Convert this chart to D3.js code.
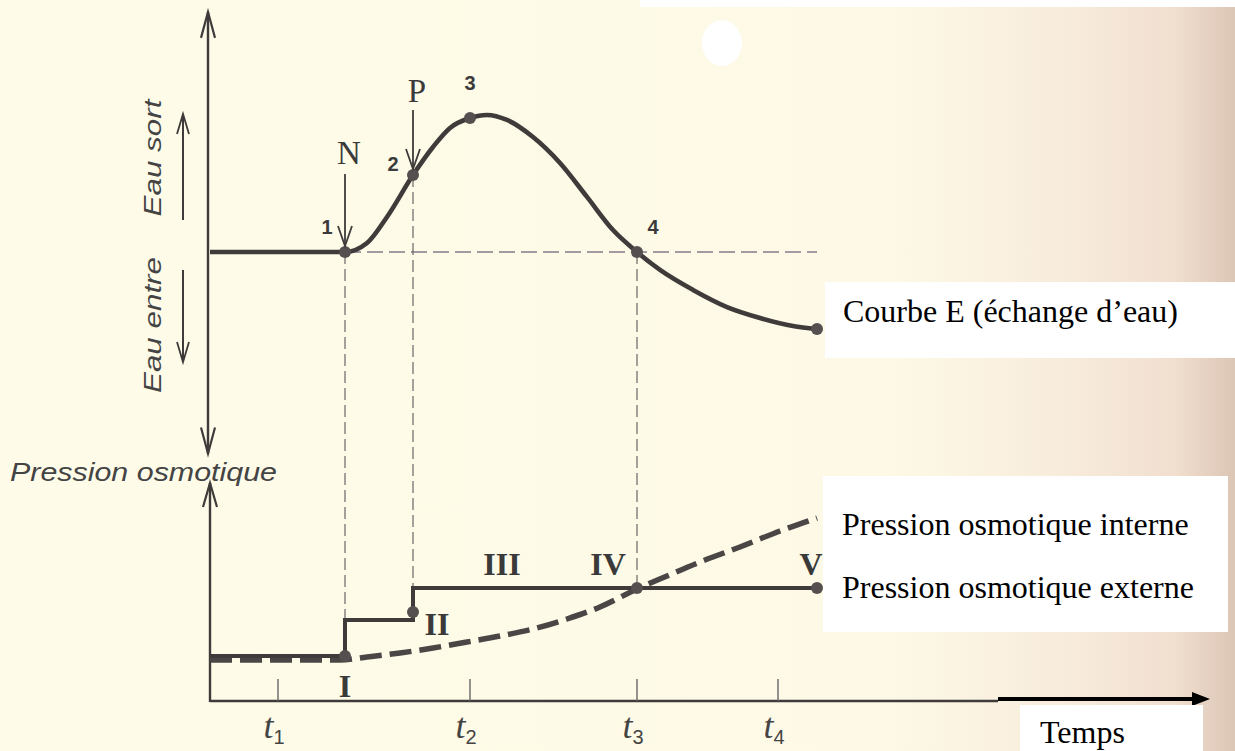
<!DOCTYPE html>
<html><head><meta charset="utf-8">
<script src="https://cdn.jsdelivr.net/npm/d3@7"></script>
<style>html,body{margin:0;padding:0;background:#fdfbe9;}svg{display:block;}</style>
</head><body>
<svg id="c" width="1235" height="751"></svg>
<script>
// ---------- DATA ----------
// Courbe E (échange d'eau): time vs exchange (0 = no exchange)
const eTime  = [0, 13.5, 15.7, 17.7, 20.3, 22.3, 24.0, 26.0, 27.7, 29.7, 32.3, 35.0, 37.7, 40.3, 42.7, 45.0, 48.3, 51.7, 55.0, 58.3, 60.7];
const eValue = [0, 0, 0.65, 2.54, 5.58, 7.61, 8.99, 9.71, 9.93, 9.57, 8.33, 6.45, 3.99, 1.59, 0, -1.30, -2.75, -3.99, -4.78, -5.36, -5.58];
const ePointLabels = ["1", "2", "3", "4"];
const ePointTime   = [13.5, 20.3, 26.0, 42.7];
const ePointValue  = [0, 5.58, 9.71, 0];
const eEndTime = 60.7, eEndValue = -5.58;
// Pression osmotique interne (dashed)
const intTime  = [0, 13.0, 15.7, 19.0, 22.3, 25.7, 29.0, 32.3, 35.7, 39.0, 42.7, 45.7, 49.0, 53.0, 57.0, 60.7];
const intValue = [4.1, 4.1, 4.4, 4.8, 5.3, 5.9, 6.5, 7.2, 8.2, 9.4, 11.2, 12.5, 13.9, 15.4, 17.0, 18.3];
// Pression osmotique externe (steps)
const extTime  = [0, 13.5, 20.3, 60.7];
const extValue = [4.5, 8.1, 11.3, 11.3];
const romanLabels = ["I", "II", "III", "IV", "V"];
const romanTime   = [13.5, 22.7, 29.2, 39.8, 60.1];
const romanDotTime  = [13.5, 20.3, 42.7, 60.7];
const romanDotValue = [4.5, 8.9, 11.3, 11.3];
// time ticks
const tickLabels = ["1", "2", "3", "4"];
const tickTimes  = [6.8, 26.0, 42.7, 56.8];
// events
const eventLabels = ["N", "P"];
const eventTimes  = [13.5, 20.3];

// ---------- SETUP ----------
const svg = d3.select("#c");
const x  = d3.scaleLinear().domain([0, 100]).range([210, 1210]);
const yE = d3.scaleLinear().domain([0, 10]).range([252, 114]);
const yP = d3.scaleLinear().domain([0, 10]).range([701, 601]);
const ink = "#3e3b3a";

// background
const defs = svg.append("defs");
const g1 = defs.append("linearGradient").attr("id","bg").attr("x1","0").attr("x2","1").attr("y1","0").attr("y2","0");
[["0","#fefce8"],["0.72","#fdf9e6"],["0.86","#f8ecdc"],["0.95","#f1dfd0"],["1","#dcc6b6"]]
  .forEach(s => g1.append("stop").attr("offset",s[0]).attr("stop-color",s[1]));
svg.append("rect").attr("width",1235).attr("height",751).attr("fill","url(#bg)");
svg.append("rect").attr("x",640).attr("y",0).attr("width",595).attr("height",7).attr("fill","#ffffff");
svg.append("ellipse").attr("cx",722).attr("cy",43).attr("rx",20).attr("ry",23).attr("fill","#ffffff");

function openArrow(g, tx, ty, dir, hw, len, sw) {
  const s = dir === "up" ? 1 : -1;
  g.append("path")
    .attr("d", `M${tx-hw},${ty+s*len} L${tx},${ty} L${tx+hw},${ty+s*len}`)
    .attr("fill","none").attr("stroke",ink).attr("stroke-width",sw).attr("stroke-linejoin","miter");
}
const gA = svg.append("g");

// ---------- UPPER AXIS ----------
gA.append("line").attr("x1",208).attr("x2",208).attr("y1",yE(17.4)).attr("y2",yE(-14.6))
  .attr("stroke",ink).attr("stroke-width",2.4);
openArrow(gA, 208, yE(17.4), "up", 7, 26, 2.2);
openArrow(gA, 208, yE(-14.6), "down", 7, 26, 2.2);

// Eau sort / Eau entre
gA.append("text").attr("transform","translate(161,158) rotate(-90)").attr("text-anchor","middle")
  .attr("font-family","Liberation Sans, Arial, sans-serif").attr("font-style","italic").attr("font-size",24)
  .attr("textLength",117).attr("lengthAdjust","spacingAndGlyphs").attr("fill","#444").text("Eau sort");
gA.append("text").attr("transform","translate(161,325) rotate(-90)").attr("text-anchor","middle")
  .attr("font-family","Liberation Sans, Arial, sans-serif").attr("font-style","italic").attr("font-size",24)
  .attr("textLength",136).attr("lengthAdjust","spacingAndGlyphs").attr("fill","#444").text("Eau entre");
gA.append("line").attr("x1",183).attr("x2",183).attr("y1",220).attr("y2",114).attr("stroke",ink).attr("stroke-width",2);
openArrow(gA, 183, 114, "up", 6, 20, 1.8);
gA.append("line").attr("x1",183).attr("x2",183).attr("y1",270).attr("y2",362).attr("stroke",ink).attr("stroke-width",2);
openArrow(gA, 183, 362, "down", 6, 20, 1.8);

// ---------- LOWER AXES ----------
gA.append("line").attr("x1",210).attr("x2",210).attr("y1",yP(0)+1).attr("y2",yP(21.8))
  .attr("stroke",ink).attr("stroke-width",2.4);
openArrow(gA, 210, yP(21.8), "up", 7, 24, 2.2);
gA.append("text").attr("x",10).attr("y",481)
  .attr("font-family","Liberation Sans, Arial, sans-serif").attr("font-style","italic").attr("font-size",26)
  .attr("textLength",267).attr("lengthAdjust","spacingAndGlyphs").attr("fill","#444").text("Pression osmotique");

// time axis
gA.append("line").attr("x1",x(0)).attr("x2",x(78.8)).attr("y1",yP(0)).attr("y2",yP(0))
  .attr("stroke",ink).attr("stroke-width",2.4);
gA.append("line").attr("x1",x(78.8)).attr("x2",x(98.5)).attr("y1",yP(0.2)).attr("y2",yP(0.2))
  .attr("stroke","#000").attr("stroke-width",4);
gA.append("path").attr("d",`M${x(98.2)},${yP(0.2)-7} L${x(100)},${yP(0.2)} L${x(98.2)},${yP(0.2)+7} Z`).attr("fill","#000");

// ticks
tickTimes.forEach((t,i) => {
  gA.append("line").attr("x1",x(t)).attr("x2",x(t)).attr("y1",yP(0)-22).attr("y2",yP(0))
    .attr("stroke","#666").attr("stroke-width",1.4);
  const tx = gA.append("text").attr("x",x(t)-4).attr("y",738).attr("text-anchor","middle")
    .attr("font-family","Liberation Serif, serif").attr("fill","#444");
  tx.append("tspan").attr("font-style","italic").attr("font-size",36).text("t");
  tx.append("tspan").attr("font-family","Liberation Sans, Arial, sans-serif").attr("font-size",20).attr("dy",6).text(tickLabels[i]);
});

// ---------- DASHED GUIDES ----------
const gD = svg.append("g").attr("stroke","#6a6668").attr("fill","none");
gD.append("line").attr("x1",x(13.5)).attr("x2",x(60.7)).attr("y1",yE(0)).attr("y2",yE(0))
  .attr("stroke","#857b8c").attr("stroke-width",1.4).attr("stroke-dasharray","16,6");
gD.append("line").attr("x1",x(13.5)).attr("x2",x(13.5)).attr("y1",yE(0)).attr("y2",yP(8.1))
  .attr("stroke-width",1.2).attr("stroke-dasharray","12,5");
gD.append("line").attr("x1",x(20.3)).attr("x2",x(20.3)).attr("y1",yE(5.58)).attr("y2",yP(11.3))
  .attr("stroke-width",1.2).attr("stroke-dasharray","12,5");
gD.append("line").attr("x1",x(42.7)).attr("x2",x(42.7)).attr("y1",yE(0)).attr("y2",yP(11.3))
  .attr("stroke-width",1.2).attr("stroke-dasharray","12,5");

// ---------- CURVES ----------
const lineE = d3.line().x((d,i)=>x(eTime[i])).y((d,i)=>yE(eValue[i])).curve(d3.curveMonotoneX);
svg.append("path").attr("d", lineE(eTime)).attr("fill","none").attr("stroke",ink).attr("stroke-width",4.6);

const lineInt = d3.line().x((d,i)=>x(intTime[i])).y((d,i)=>yP(intValue[i])).curve(d3.curveMonotoneX);
svg.append("path").attr("d", lineInt(intTime)).attr("fill","none").attr("stroke","#4a4646")
  .attr("stroke-width",5.5).attr("stroke-dasharray","22,8");

const lineExt = d3.line().x((d,i)=>x(extTime[i])).y((d,i)=>yP(extValue[i])).curve(d3.curveStepAfter);
svg.append("path").attr("d", lineExt(extTime)).attr("fill","none").attr("stroke",ink).attr("stroke-width",4);

// ---------- MARKERS ----------
const dots = ePointTime.map((t,i)=>[x(t), yE(ePointValue[i])]).concat([[x(eEndTime), yE(eEndValue)]])
  .concat(romanDotTime.map((t,i)=>[x(t), yP(romanDotValue[i])]));
svg.append("g").selectAll("circle").data(dots).join("circle")
  .attr("cx",d=>d[0]).attr("cy",d=>d[1]).attr("r",6).attr("fill","#55504f");

// point labels 1..4
const ptOff = [[-18,-18],[-20,-4],[0,-28],[16,-18]];
svg.append("g").selectAll("text").data(ePointLabels).join("text")
  .attr("x",(d,i)=>x(ePointTime[i])+ptOff[i][0]).attr("y",(d,i)=>yE(ePointValue[i])+ptOff[i][1])
  .attr("text-anchor","middle").attr("font-family","Liberation Sans, Arial, sans-serif")
  .attr("font-weight","bold").attr("font-size",20).attr("fill","#3a3a3a").text(d=>d);

// N, P events with arrows
const evY = [{lab:164, top:174, tip:246}, {lab:102, top:110, tip:169}];
eventLabels.forEach((l,i)=>{
  const ex = x(eventTimes[i]);
  svg.append("text").attr("x",ex+4).attr("y",evY[i].lab).attr("text-anchor","middle")
    .attr("font-family","Liberation Serif, serif").attr("font-size",33).attr("fill","#3a3a3a").text(l);
  svg.append("line").attr("x1",ex).attr("x2",ex).attr("y1",evY[i].top).attr("y2",evY[i].tip)
    .attr("stroke",ink).attr("stroke-width",1.8);
  openArrow(svg, ex, evY[i].tip, "down", 7, 20, 1.8);
});

// roman labels
const romanY = [697, 635, 575, 575, 575];
svg.append("g").selectAll("text").data(romanLabels).join("text")
  .attr("x",(d,i)=>x(romanTime[i])).attr("y",(d,i)=>romanY[i]).attr("text-anchor","middle")
  .attr("font-family","Liberation Serif, serif").attr("font-size",32).attr("fill","#3a3a3a")
  .attr("font-weight", "bold").text(d=>d);

// ---------- LEGEND BOXES ----------
svg.append("rect").attr("x",825).attr("y",282).attr("width",410).attr("height",76).attr("fill","#ffffff");
svg.append("text").attr("x",843).attr("y",322).attr("font-family","Liberation Serif, 'Times New Roman', serif")
  .attr("font-size",32).attr("fill","#000").text("Courbe E (échange d’eau)");
svg.append("rect").attr("x",823).attr("y",476).attr("width",405).attr("height",156).attr("fill","#ffffff");
svg.append("text").attr("x",842).attr("y",535).attr("font-family","Liberation Serif, 'Times New Roman', serif")
  .attr("font-size",32).attr("fill","#000").text("Pression osmotique interne");
svg.append("text").attr("x",842).attr("y",598).attr("font-family","Liberation Serif, 'Times New Roman', serif")
  .attr("font-size",32).attr("fill","#000").text("Pression osmotique externe");
svg.append("rect").attr("x",1020).attr("y",705).attr("width",183).attr("height",46).attr("fill","#ffffff");
svg.append("text").attr("x",1040).attr("y",743).attr("font-family","Liberation Serif, 'Times New Roman', serif")
  .attr("font-size",32).attr("fill","#000").text("Temps");
</script>
</body></html>
